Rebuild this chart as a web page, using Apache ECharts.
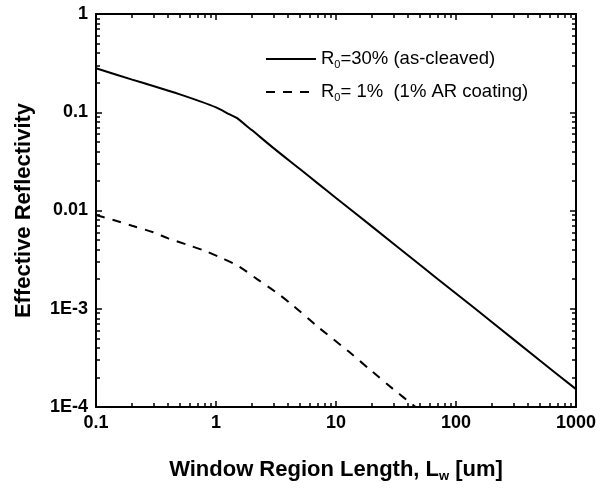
<!DOCTYPE html>
<html><head><meta charset="utf-8">
<script src="https://cdn.jsdelivr.net/npm/echarts@6/dist/echarts.min.js"></script>
<style>html,body{margin:0;padding:0;background:#fff}#c{width:600px;height:488px}</style>
</head><body><div id="c"></div>
<script>
// ---- data ----
const solidX = [0.1, 0.2, 0.3, 0.5, 0.7, 1, 1.3, 1.5, 1.8, 2, 3, 5, 7, 10, 20, 50, 100, 200, 500, 1000];
const solidY = [0.28, 0.215, 0.185, 0.152, 0.132, 0.112, 0.095, 0.087, 0.0725, 0.0655, 0.0434, 0.0264, 0.0190, 0.0134, 0.00685, 0.00280, 0.00143, 0.00073, 0.000297, 0.000152];
const dashX = [0.1, 0.14, 0.2, 0.3, 0.4, 0.57, 0.8, 1.1, 1.55, 2.2, 3.1, 4.3, 7, 13, 20, 30, 46];
const dashY = [0.0090, 0.0080, 0.0070, 0.0060, 0.0052, 0.0045, 0.0039, 0.0033, 0.0027, 0.0020, 0.0015, 0.0011, 0.00066, 0.00036, 0.00023, 0.000152, 0.0001];
const xTicks = [0.1, 1, 10, 100, 1000];
const xTickLabels = ['0.1', '1', '10', '100', '1000'];
const yTicks = [0.0001, 0.001, 0.01, 0.1, 1];
const yTickLabels = ['1E-4', '1E-3', '0.01', '0.1', '1'];
const seriesNames = ['R0=30% (as-cleaved)', 'R0= 1% (1% AR coating)'];
const legendRich = ['{r|R}{s|0}{r|=30% (as-cleaved)}', '{r|R}{s|0}{r|= 1%  (1% AR coating)}'];
const xTitle = '{t|Window Region Length, L}{s|w}{t| [um]}';
const yTitle = 'Effective Reflectivity';

function minorOf(ticks) {
  const out = [];
  for (let i = 0; i < ticks.length - 1; i++) {
    for (let k = 2; k <= 9; k++) out.push(+(ticks[i] * k).toPrecision(6));
  }
  return out;
}
const xMinor = minorOf(xTicks);
const yMinor = minorOf(yTicks);

const FONT = 'Liberation Sans, Arial, sans-serif';
const lineCol = '#000';

function lbl(ticks, labels) {
  return function (v) {
    let best = 0, bd = Infinity;
    ticks.forEach((t, i) => { const d = Math.abs(Math.log10(t) - Math.log10(v)); if (d < bd) { bd = d; best = i; } });
    return labels[best];
  };
}

function xAx(pos, vals, len, withLabels, withLine) {
  return {
    type: 'log', logBase: 10, position: pos, min: xTicks[0], max: xTicks[xTicks.length - 1],
    axisLine: { show: withLine, onZero: false, lineStyle: { color: lineCol, width: 2 } },
    axisTick: { show: true, inside: true, length: len, customValues: vals, lineStyle: { color: lineCol, width: 1.5 } },
    axisLabel: withLabels ? { show: true, customValues: vals, formatter: lbl(xTicks, xTickLabels), margin: 7, color: '#000', fontFamily: FONT, fontWeight: 'bold', fontSize: 18 } : { show: false },
    splitLine: { show: false },
    name: withLabels ? xTitle : '', nameLocation: 'middle', nameGap: 50,
    nameTextStyle: { rich: { t: { fontFamily: FONT, fontWeight: 'bold', fontSize: 22, color: '#000', lineHeight: 26 }, s: { fontFamily: FONT, fontWeight: 'bold', fontSize: 13, color: '#000', lineHeight: 26, verticalAlign: 'bottom', padding: [16, 0, 0, 0] } } }
  };
}
function yAx(pos, vals, len, withLabels, withLine) {
  return {
    type: 'log', logBase: 10, position: pos, min: yTicks[0], max: yTicks[yTicks.length - 1],
    axisLine: { show: withLine, onZero: false, lineStyle: { color: lineCol, width: 2 } },
    axisTick: { show: true, inside: true, length: len, customValues: vals, lineStyle: { color: lineCol, width: 1.5 } },
    axisLabel: withLabels ? { show: true, customValues: vals, formatter: lbl(yTicks, yTickLabels), margin: 8, color: '#000', fontFamily: FONT, fontWeight: 'bold', fontSize: 18 } : { show: false },
    splitLine: { show: false },
    name: withLabels ? yTitle : '', nameLocation: 'middle', nameRotate: 90, nameGap: 61,
    nameTextStyle: { fontFamily: FONT, fontWeight: 'bold', fontSize: 22, color: '#000' }
  };
}

const legendText = {
  fontFamily: FONT, color: '#000',
  rich: {
    r: { fontFamily: FONT, fontSize: 18.5, color: '#000', lineHeight: 22 },
    s: { fontFamily: FONT, fontSize: 11, color: '#000', lineHeight: 22, verticalAlign: 'bottom', padding: [13, 0, 0, 0] }
  }
};

const chart = echarts.init(document.getElementById('c'), null, { renderer: 'canvas' });
chart.setOption({
  animation: false,
  backgroundColor: '#fff',
  grid: { left: 96, right: 24, top: 14, bottom: 80, containLabel: false },
  xAxis: [
    xAx('bottom', xTicks, 6, true, true),
    xAx('bottom', xMinor, 4, false, false),
    xAx('top', xTicks, 6, false, true),
    xAx('top', xMinor, 4, false, false)
  ],
  yAxis: [
    yAx('left', yTicks, 6, true, true),
    yAx('left', yMinor, 4, false, false),
    yAx('right', yTicks, 6, false, true),
    yAx('right', yMinor, 4, false, false)
  ],
  legend: [
    { data: [seriesNames[0]], left: 260, top: 41, orient: 'vertical', itemWidth: 50, itemHeight: 14,
      itemStyle: { opacity: 0 }, formatter: () => legendRich[0], textStyle: legendText },
    { data: [seriesNames[1]], left: 260, top: 74, orient: 'vertical', itemWidth: 50, itemHeight: 14,
      itemStyle: { opacity: 0 }, formatter: () => legendRich[1], textStyle: legendText }
  ],
  series: [
    { name: seriesNames[0], type: 'line', xAxisIndex: 0, yAxisIndex: 0, symbol: 'none', smooth: 0.3,
      data: solidX.map((x, i) => [x, solidY[i]]), lineStyle: { color: '#000', width: 2, type: 'solid' }, itemStyle: { color: '#000' } },
    { name: seriesNames[1], type: 'line', xAxisIndex: 0, yAxisIndex: 0, symbol: 'none', smooth: 0.3,
      data: dashX.map((x, i) => [x, dashY[i]]), lineStyle: { color: '#000', width: 2, type: [9, 8] }, itemStyle: { color: '#000' } }
  ]
});
</script>
</body></html>
